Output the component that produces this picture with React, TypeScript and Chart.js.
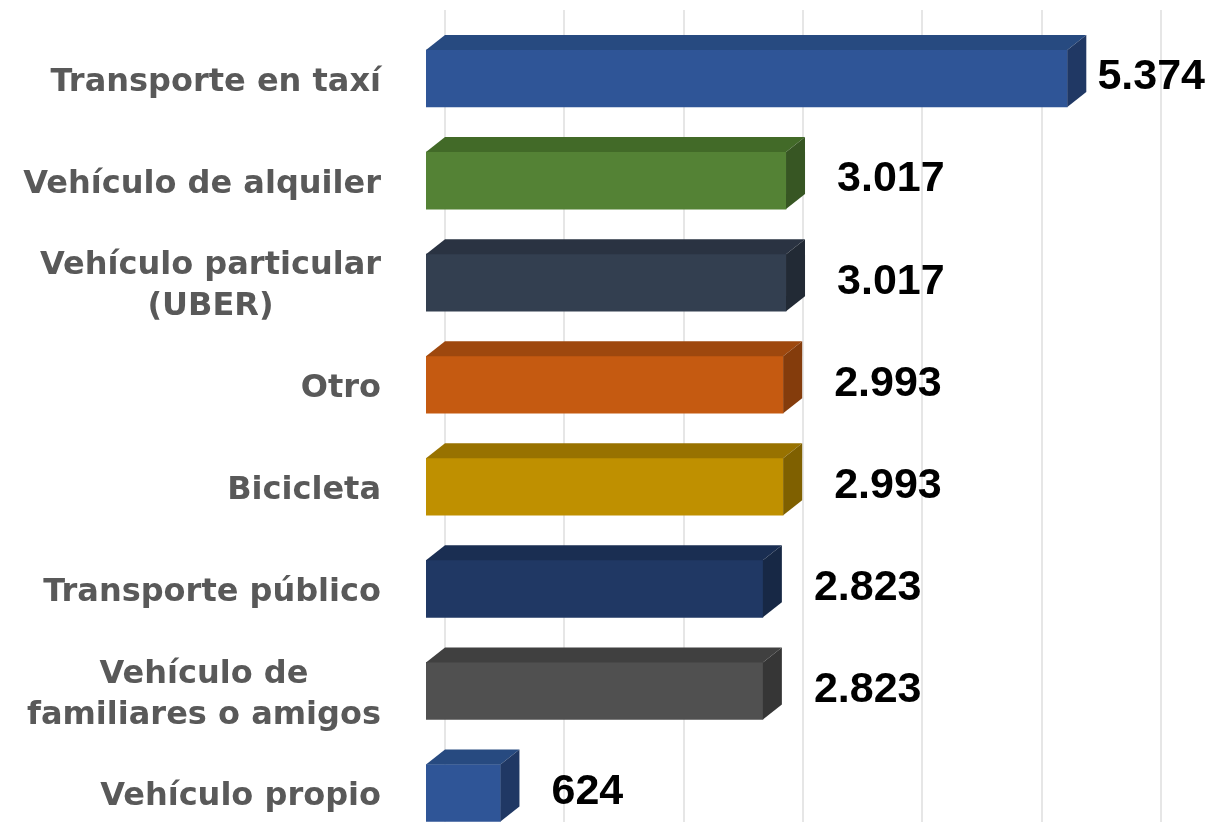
import React, { useEffect, useRef } from "react";
import { Chart, registerables } from "chart.js";

Chart.register(...registerables);

const categories: string[][] = [
  ["Transporte en taxí"],
  ["Vehículo de alquiler"],
  ["Vehículo particular", "(UBER)"],
  ["Otro"],
  ["Bicicleta"],
  ["Transporte público"],
  ["Vehículo de", "familiares o amigos"],
  ["Vehículo propio"],
];
const values: number[] = [5374, 3017, 3017, 2993, 2993, 2823, 2823, 624];
const xTicks: number[] = [0, 1000, 2000, 3000, 4000, 5000, 6000];

const frontColors = ["#2F5597", "#548235", "#333F50", "#C55A11", "#BF9000", "#203864", "#505050", "#2F5597"];
const topColors = ["#274A80", "#426A28", "#2A3342", "#9E480E", "#987200", "#1A2E52", "#404040", "#274A80"];
const sideColors = ["#203864", "#375623", "#222A35", "#843C0C", "#7F6000", "#172845", "#363636", "#203864"];

const DX = 19;
const DY = 15;

const fmt = (v: number) => String(v).replace(/\B(?=(\d{3})+(?!\d))/g, ".");

const depthPlugin = {
  id: "depth3d",
  beforeDatasetsDraw(chart: any) {
    const ctx = chart.ctx;
    const xs = chart.scales.x;
    ctx.save();
    ctx.strokeStyle = "#E6E6E6";
    ctx.lineWidth = 2;
    xTicks.forEach((t) => {
      const px = Math.round(xs.getPixelForValue(t) + DX);
      ctx.beginPath();
      ctx.moveTo(px, 10);
      ctx.lineTo(px, chart.height);
      ctx.stroke();
    });
    ctx.restore();
  },
  afterDatasetsDraw(chart: any) {
    const ctx = chart.ctx;
    const meta = chart.getDatasetMeta(0);
    ctx.save();
    meta.data.forEach((bar: any, i: number) => {
      const x0 = bar.base;
      const x1 = bar.x;
      const top = bar.y - bar.height / 2;
      const bottom = bar.y + bar.height / 2;
      ctx.fillStyle = topColors[i];
      ctx.beginPath();
      ctx.moveTo(x0, top);
      ctx.lineTo(x0 + DX, top - DY);
      ctx.lineTo(x1 + DX, top - DY);
      ctx.lineTo(x1, top);
      ctx.closePath();
      ctx.fill();
      ctx.fillStyle = sideColors[i];
      ctx.beginPath();
      ctx.moveTo(x1, top);
      ctx.lineTo(x1 + DX, top - DY);
      ctx.lineTo(x1 + DX, bottom - DY);
      ctx.lineTo(x1, bottom);
      ctx.closePath();
      ctx.fill();

      // value label
      ctx.font = "bold 43px 'Liberation Sans', Arial, sans-serif";
      ctx.fillStyle = "#000000";
      ctx.textBaseline = "middle";
      ctx.textAlign = "left";
      const txt = fmt(values[i]);
      const w = ctx.measureText(txt).width;
      let lx = x1 + DX + 32;
      if (lx + w > chart.width - 6) lx = chart.width - 6 - w;
      ctx.fillText(txt, lx, bar.y - 1);
    });
    ctx.restore();
  },
  afterDraw(chart: any) {
    const ctx = chart.ctx;
    const ys = chart.scales.y;
    ctx.save();
    ctx.font = "bold 32px 'DejaVu Sans', sans-serif";
    ctx.fillStyle = "#595959";
    ctx.textBaseline = "middle";
    ctx.textAlign = "center";
    const right = 381;
    const lh = 41;
    categories.forEach((lines, i) => {
      const cy = ys.getPixelForValue(i) + 4;
      const blockW = Math.max(...lines.map((l) => ctx.measureText(l).width));
      const cx = right - blockW / 2;
      const y0 = cy - ((lines.length - 1) * lh) / 2;
      lines.forEach((l, j) => ctx.fillText(l, cx, y0 + j * lh));
    });
    ctx.restore();
  },
};

export default function App() {
  const ref = useRef<HTMLCanvasElement | null>(null);
  useEffect(() => {
    document.body.style.margin = "0";
    const canvas = ref.current!;
    const chart = new Chart(canvas, {
      type: "bar",
      data: {
        labels: categories.map((c) => c.join(" ")),
        datasets: [
          {
            data: values,
            backgroundColor: frontColors,
            borderWidth: 0,
            barThickness: 57,
          },
        ],
      },
      options: {
        indexAxis: "y",
        responsive: false,
        animation: false,
        devicePixelRatio: 1,
        layout: { padding: { left: 426, right: 69, top: 27.5, bottom: 0 } },
        plugins: { legend: { display: false }, tooltip: { enabled: false } },
        scales: {
          x: { display: false, min: 0, max: 6000, ticks: { stepSize: 1000 } },
          y: { display: false },
        },
      },
      plugins: [depthPlugin],
    });
    return () => chart.destroy();
  }, []);
  return (
    <div style={{ position: "absolute", left: 0, top: 0, width: 1211, height: 822, overflow: "hidden", background: "#fff" }}>
      <canvas ref={ref} width={1211} height={844} style={{ display: "block" }} />
    </div>
  );
}
